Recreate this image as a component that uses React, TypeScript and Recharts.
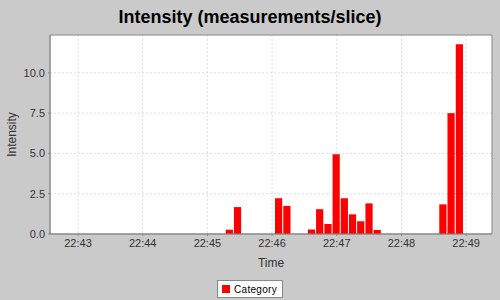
import { BarChart, Bar, XAxis, YAxis, CartesianGrid, ReferenceArea, Legend } from 'recharts';

// slice centre times and measurement counts per slice
const sliceTimes = [
  '22:45:20.8', '22:45:28.4', '22:46:06.5', '22:46:14.2', '22:46:37.0', '22:46:44.6',
  '22:46:52.3', '22:46:59.9', '22:47:07.5', '22:47:15.1', '22:47:22.7', '22:47:30.4',
  '22:47:38.0', '22:48:38.9', '22:48:46.5', '22:48:54.2',
];
const intensity = [0.27, 1.67, 2.22, 1.74, 0.28, 1.54, 0.62, 4.95, 2.22, 1.22, 0.79, 1.9, 0.25, 1.84, 7.5, 11.78];
const timeTicks = ['22:43', '22:44', '22:45', '22:46', '22:47', '22:48', '22:49'];
const intensityTicks = [0, 2.5, 5, 7.5, 10];
const timeRange = ['22:42:34', '22:49:24'];
const intensityMax = 12.35;

const toSeconds = (clock: string) => {
  const [h, m, s = '0'] = clock.split(':');
  return Number(h) * 3600 + Number(m) * 60 + parseFloat(s);
};

const fmtClock = (v: number) => {
  const h = Math.floor(v / 3600);
  const m = Math.round((v - h * 3600) / 60);
  return `${h}:${String(m).padStart(2, '0')}`;
};

const data = sliceTimes.map((t, i) => ({ t: toSeconds(t), v: intensity[i] }));
const xDomain = timeRange.map(toSeconds);

const FONT = '"Liberation Sans", Arial, sans-serif';
const BORDER = '#888888';

const LegendBox = () => (
  <div style={{ height: 22, display: 'flex', justifyContent: 'center', paddingLeft: 8 }}>
    <div
      style={{
        marginTop: 2,
        height: 16,
        padding: '0 5px 0 4px',
        background: '#fff',
        border: `1px solid ${BORDER}`,
        display: 'flex',
        alignItems: 'center',
        gap: 4,
        fontFamily: FONT,
        fontSize: 10,
        letterSpacing: 0.3,
        color: '#000',
      }}
    >
      <span style={{ width: 8, height: 8, background: '#ff0000', display: 'inline-block' }} />
      <span>Category</span>
    </div>
  </div>
);

const YLabel = ({ viewBox }: any) => {
  const cy = viewBox.y + viewBox.height / 2;
  return (
    <text x={16} y={cy} transform={`rotate(-90 16 ${cy})`} textAnchor="middle" fontFamily={FONT} fontSize={12} fill="#333">
      Intensity
    </text>
  );
};

export default function App() {
  return (
    <div style={{ position: 'fixed', left: 0, top: 0, width: 500, height: 300, background: '#cacaca' }}>
      <div
        style={{
          position: 'absolute',
          top: 6,
          width: 500,
          textAlign: 'center',
          fontFamily: FONT,
          fontWeight: 'bold',
          fontSize: 18,
          color: '#000',
          lineHeight: '22px',
        }}
      >
        Intensity (measurements/slice)
      </div>
      <BarChart width={500} height={300} data={data} margin={{ top: 35, right: 8, left: 0, bottom: 0 }}>
        <CartesianGrid fill="#ffffff" stroke="#dedede" strokeDasharray="2 2" />
        <XAxis
          dataKey="t"
          type="number"
          domain={xDomain}
          ticks={timeTicks.map(toSeconds)}
          tickFormatter={fmtClock}
          allowDataOverflow
          height={44}
          tickSize={2}
          tickMargin={3}
          stroke={BORDER}
          tick={{ fill: '#333', fontSize: 11, fontFamily: FONT }}
          label={{ value: 'Time', position: 'insideBottom', offset: 11, fill: '#333', fontSize: 12, fontFamily: FONT }}
        />
        <YAxis
          type="number"
          domain={[0, intensityMax]}
          ticks={intensityTicks}
          tickFormatter={(v: number) => v.toFixed(1)}
          width={50}
          tickSize={2}
          tickMargin={3}
          stroke={BORDER}
          tick={{ fill: '#333', fontSize: 11, fontFamily: FONT }}
          label={<YLabel />}
        />
        <Legend verticalAlign="bottom" content={<LegendBox />} />
        <Bar dataKey="v" name="Category" fill="#ff0000" barSize={7.2} isAnimationActive={false} />
        <ReferenceArea x1={xDomain[0]} x2={xDomain[1]} y1={0} y2={intensityMax} fill="none" stroke={BORDER} ifOverflow="extendDomain" />
      </BarChart>
    </div>
  );
}
